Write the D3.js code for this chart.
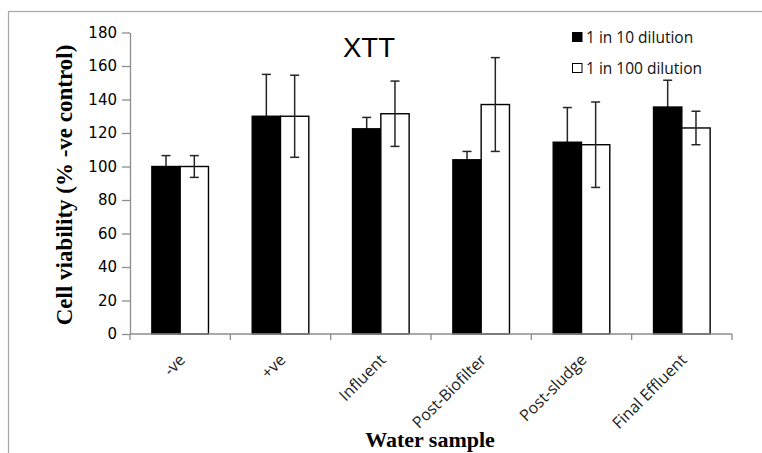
<!DOCTYPE html>
<html>
<head>
<meta charset="utf-8">
<script src="https://cdn.jsdelivr.net/npm/d3@7"></script>
<style>
  html, body { margin: 0; padding: 0; background: #fff; }
  svg { display: block; }
</style>
</head>
<body>
<div id="chart"></div>
<script>
// XTT cell viability by water sample, two dilutions
const categories = ["-ve", "+ve", "Influent", "Post-Biofilter", "Post-sludge", "Final Effluent"];
const seriesNames = ["1 in 10 dilution", "1 in 100 dilution"];
const dilution10 = [100, 130, 122.5, 104, 114.5, 135.5];
const dilution10Err = [6.5, 25, 6.8, 5, 20.7, 16];
const dilution100 = [100, 130, 131.5, 137, 113, 123];
const dilution100Err = [6.5, 24.5, 19.5, 28, 25.5, 10];
const yTicks = [0, 20, 40, 60, 80, 100, 120, 140, 160, 180];

const W = 762, H = 453;
const plot = { left: 130, right: 732, top: 32.5, bottom: 334 };

const svg = d3.select("#chart").append("svg")
  .attr("width", W).attr("height", H);

// outer chart frame
svg.append("rect")
  .attr("x", 8.5).attr("y", 11.5).attr("width", 900).attr("height", 600)
  .attr("fill", "none").attr("stroke", "#a6a6a6").attr("stroke-width", 1.2);

const x = d3.scaleBand().domain(categories).range([plot.left, plot.right]).paddingInner(0).paddingOuter(0);
const y = d3.scaleLinear().domain([0, 180]).range([plot.bottom, plot.top]);
const barW = 28.3;
const sub = d3.scaleBand().domain(seriesNames).range([0, barW * 2]);
const fills = ["#000", "#fff"];

const rows = categories.map((c, i) => ({
  cat: c,
  vals: [
    { s: seriesNames[0], k: 0, v: dilution10[i], e: dilution10Err[i] },
    { s: seriesNames[1], k: 1, v: dilution100[i], e: dilution100Err[i] }
  ]
}));

// y axis
const yAxis = svg.append("g")
  .attr("transform", `translate(${plot.left},0)`)
  .call(d3.axisLeft(y).tickValues(yTicks).tickSize(8).tickSizeOuter(0).tickPadding(5));
yAxis.select(".domain").attr("stroke", "#8c8c8c").attr("stroke-width", 1.3);
yAxis.selectAll(".tick line").attr("stroke", "#8c8c8c").attr("stroke-width", 1.3);
yAxis.selectAll(".tick text")
  .attr("font-family", "DejaVu Sans, Verdana, sans-serif")
  .attr("font-size", 15).attr("fill", "#000");

const groups = svg.append("g").selectAll("g").data(rows).join("g")
  .attr("transform", d => `translate(${x(d.cat) + (x.bandwidth() - barW * 2) / 2},0)`);

const cx = d => sub(d.s) + sub.bandwidth() / 2;
function errorBar(sel) {
  sel.append("line")
    .attr("x1", cx).attr("x2", cx)
    .attr("y1", d => y(d.v + d.e)).attr("y2", d => y(d.v - d.e));
  sel.append("line")
    .attr("x1", d => cx(d) - 4.5).attr("x2", d => cx(d) + 4.5)
    .attr("y1", d => y(d.v + d.e)).attr("y2", d => y(d.v + d.e));
  sel.append("line")
    .attr("x1", d => cx(d) - 4.5).attr("x2", d => cx(d) + 4.5)
    .attr("y1", d => y(d.v - d.e)).attr("y2", d => y(d.v - d.e));
  sel.selectAll("line").attr("stroke", "#262626").attr("stroke-width", 1.5);
}
function bar(sel) {
  sel.append("rect")
    .attr("x", d => sub(d.s))
    .attr("y", d => y(d.v))
    .attr("width", sub.bandwidth())
    .attr("height", d => y(0) - y(d.v))
    .attr("fill", d => fills[d.k])
    .attr("stroke", "#000").attr("stroke-width", 1.4);
}

// black-bar error bars sit behind their bars; white-bar error bars on top
groups.selectAll("g.e0").data(d => d.vals.filter(v => v.k === 0)).join("g").attr("class", "e0").call(errorBar);
groups.selectAll("g.b").data(d => d.vals).join("g").attr("class", "b").call(bar);
groups.selectAll("g.e1").data(d => d.vals.filter(v => v.k === 1)).join("g").attr("class", "e1").call(errorBar);

// x axis with ticks at category boundaries
const xAxisG = svg.append("g").attr("transform", `translate(0,${plot.bottom})`);
xAxisG.append("line")
  .attr("x1", plot.left).attr("x2", plot.right)
  .attr("stroke", "#8c8c8c").attr("stroke-width", 1.3);
const bounds = categories.map(c => x(c)).concat([x(categories[categories.length - 1]) + x.bandwidth()]);
xAxisG.selectAll("line.tk").data(bounds).join("line").attr("class", "tk")
  .attr("x1", d => d).attr("x2", d => d).attr("y1", 0).attr("y2", 6)
  .attr("stroke", "#8c8c8c").attr("stroke-width", 1.3);
xAxisG.selectAll("text").data(categories).join("text")
  .attr("transform", d => `translate(${x(d) + x.bandwidth() / 2 + 6},${27}) rotate(-45)`)
  .attr("text-anchor", "end")
  .attr("font-family", "Open Sans, sans-serif")
  .attr("font-size", 16).attr("fill", "#222")
  .text(d => d);

// title
svg.append("text")
  .attr("x", 369).attr("y", 57)
  .attr("text-anchor", "middle")
  .attr("font-family", "Liberation Sans, Arial, sans-serif")
  .attr("font-size", 27.5).attr("fill", "#000")
  .text("XTT");

// axis titles
svg.append("text")
  .attr("transform", "translate(72,185) rotate(-90)")
  .attr("text-anchor", "middle")
  .attr("font-family", "Liberation Serif, Times New Roman, serif")
  .attr("font-weight", "bold").attr("font-size", 23).attr("fill", "#000")
  .text("Cell viability  (% -ve control)");
svg.append("text")
  .attr("x", 430).attr("y", 447)
  .attr("text-anchor", "middle")
  .attr("font-family", "Liberation Serif, Times New Roman, serif")
  .attr("font-weight", "bold").attr("font-size", 22).attr("fill", "#000")
  .text("Water sample");

// legend
const legend = svg.append("g").selectAll("g").data(seriesNames).join("g")
  .attr("transform", (d, i) => `translate(572,${32 + i * 31})`);
legend.append("rect")
  .attr("x", 0.5).attr("y", 0.5).attr("width", 9.5).attr("height", 9)
  .attr("fill", (d, i) => fills[i])
  .attr("stroke", "#000").attr("stroke-width", 1);
legend.append("text")
  .attr("x", 14).attr("y", 11)
  .attr("font-family", "Open Sans, sans-serif")
  .attr("font-size", 15.5).attr("fill", "#111")
  .text(d => d);
</script>
</body>
</html>
